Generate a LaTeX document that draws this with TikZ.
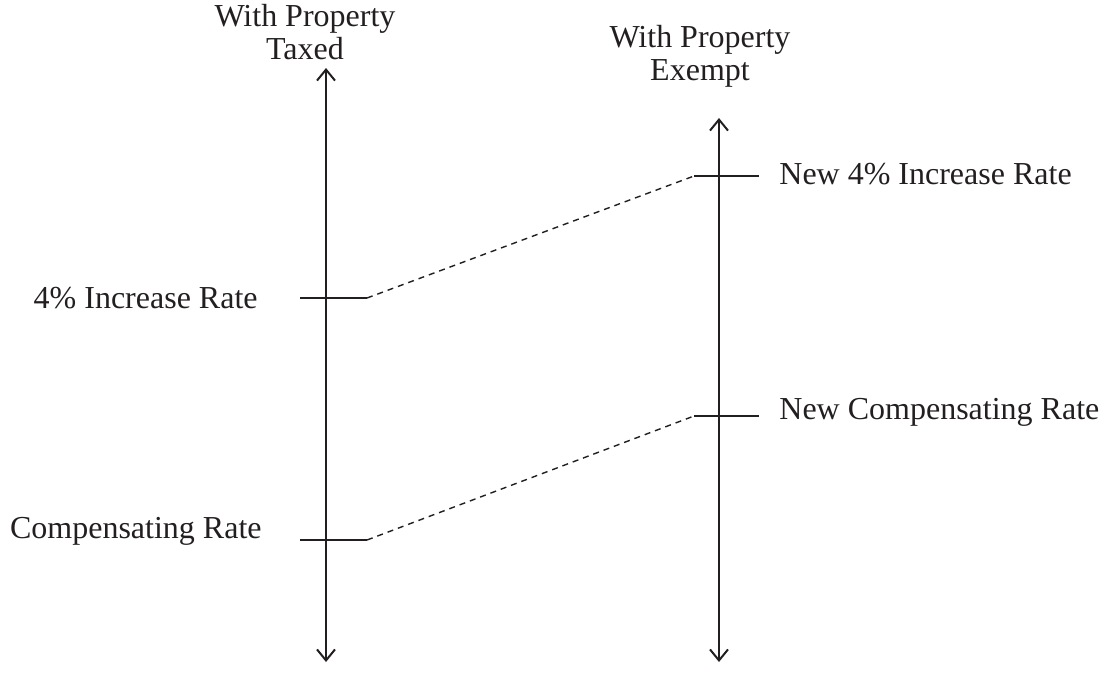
\documentclass[tikz,border=0pt]{standalone}
\usepackage{fontspec}
\setmainfont{Liberation Serif}
\usetikzlibrary{arrows.meta}
\definecolor{ink}{HTML}{231F20}
\tikzset{
  axis/.style={ink, line width=1.4pt, {Straight Barb[length=5.5pt,width=9pt,line width=1pt]}-{Straight Barb[length=5.5pt,width=9pt,line width=1pt]}},
  tick/.style={ink, line width=0.9pt},
  link/.style={ink, line width=0.7pt, dash pattern=on 3pt off 2.5pt},
  lbl/.style={text=ink, font=\fontsize{16}{16.5}\selectfont, inner sep=0pt},
  head/.style={lbl, align=center}
}
\begin{document}
\begin{tikzpicture}[x=0.5pt,y=-0.5pt]
\useasboundingbox (0,0) rectangle (1104,677);
% headers
\node[head] (hL) at (305,32) {With Property\\Taxed};
\node[head] (hR) at (700,56) {With Property\\Exempt};
% axes
\coordinate (LT) at (326,68);
\coordinate (LB) at (326,662);
\coordinate (RT) at (719,118);
\coordinate (RB) at (719,662);
\draw[axis] (LB) -- (LT);
\draw[axis] (RB) -- (RT);
% ticks
\coordinate (a1) at (300,298); \coordinate (a2) at (367,298);
\coordinate (b1) at (300,540); \coordinate (b2) at (367,540);
\coordinate (c1) at (694,176); \coordinate (c2) at (759,176);
\coordinate (d1) at (694,416); \coordinate (d2) at (759,416);
\draw[tick] (a1) -- (a2);
\draw[tick] (b1) -- (b2);
\draw[tick] (c1) -- (c2);
\draw[tick] (d1) -- (d2);
% dashed links
\draw[link] (a2) -- (c1);
\draw[link] (b2) -- (d1);
% labels
\node[lbl, anchor=east] (la) at (258,298) {4\% Increase Rate};
\node[lbl, anchor=east] (lb) at (262,531) {Compensating Rate};
\node[lbl, anchor=west] (lc) at (779,174) {New 4\% Increase Rate};
\node[lbl, anchor=west] (ld) at (779,412) {New Compensating Rate};
\end{tikzpicture}
\end{document}
